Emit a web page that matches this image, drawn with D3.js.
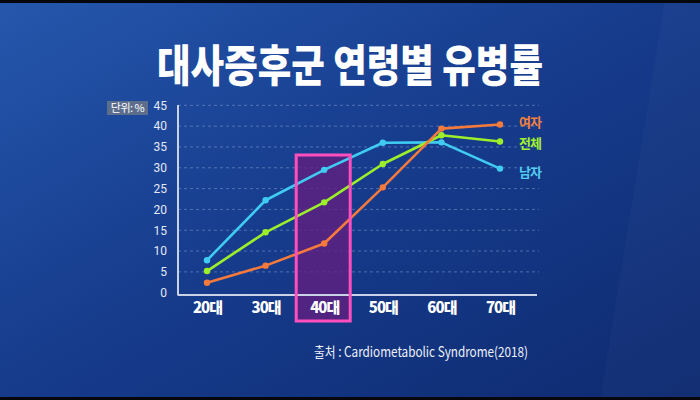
<!DOCTYPE html>
<html>
<head>
<meta charset="utf-8">
<script src="https://cdn.jsdelivr.net/npm/d3@7"></script>
<style>
  html, body { margin: 0; padding: 0; background: #000; }
  svg { display: block; }
</style>
</head>
<body>
<div id="chart"></div>
<script>
const ages = ["20대", "30대", "40대", "50대", "60대", "70대"];
const yTicks = [0, 5, 10, 15, 20, 25, 30, 35, 40, 45];
const male = [7.8, 22.2, 29.5, 36.0, 36.1, 29.8];
const total = [5.2, 14.5, 21.7, 30.9, 37.8, 36.3];
const female = [2.4, 6.5, 11.8, 25.3, 39.4, 40.4];
const seriesNames = ["여자", "전체", "남자"];

const W = 700, H = 400;

const svg = d3.select("#chart").append("svg")
    .attr("width", W)
    .attr("height", H);

// background
const defs = svg.append("defs");
const bg = defs.append("linearGradient").attr("id", "bg")
    .attr("x1", "0").attr("y1", "0").attr("x2", "1").attr("y2", "1");
bg.append("stop").attr("offset", "0%").attr("stop-color", "#2557ac");
bg.append("stop").attr("offset", "45%").attr("stop-color", "#173d8e");
bg.append("stop").attr("offset", "100%").attr("stop-color", "#0e2a70");

svg.append("rect").attr("width", W).attr("height", H).attr("fill", "url(#bg)");
svg.append("path")
    .attr("d", "M665,0 L700,0 L700,400 L600,400 Z")
    .attr("fill", "#ffffff").attr("opacity", 0.025);
svg.append("rect").attr("width", W).attr("height", 3).attr("fill", "#05070d");
svg.append("rect").attr("y", H - 3).attr("width", W).attr("height", 3).attr("fill", "#05070d");

// title
svg.append("text")
    .attr("x", 350).attr("y", 82)
    .attr("text-anchor", "middle")
    .attr("fill", "#ffffff")
    .style("font-family", "'Noto Sans CJK KR', sans-serif")
    .style("font-weight", 900)
    .style("font-size", "44px")
    .attr("textLength", 386)
    .attr("lengthAdjust", "spacingAndGlyphs")
    .text("대사증후군 연령별 유병률");

const x = d3.scalePoint().domain(ages).range([207, 500]);
const y = d3.scaleLinear().domain([0, 45]).range([292.7, 105.3]);

const plotLeft = 178, plotRight = 539;

// grid lines
svg.append("g")
    .selectAll("line")
    .data(yTicks.filter(d => d > 0))
    .enter().append("line")
    .attr("x1", plotLeft).attr("x2", plotRight)
    .attr("y1", d => y(d)).attr("y2", d => y(d))
    .attr("stroke", "#8ea3cf")
    .attr("stroke-opacity", 0.5)
    .attr("stroke-width", 1)
    .attr("stroke-dasharray", "3,3");

// highlight box behind lines
const hlX = x("40대");
svg.append("rect")
    .attr("x", hlX - 28).attr("y", 155)
    .attr("width", 54).attr("height", 166)
    .attr("fill", "#621f80").attr("fill-opacity", 0.8);

// axis lines
svg.append("line")
    .attr("x1", plotLeft).attr("x2", plotLeft)
    .attr("y1", 105).attr("y2", 295.5)
    .attr("stroke", "#c9d2e6").attr("stroke-width", 2);
svg.append("line")
    .attr("x1", plotLeft).attr("x2", 537)
    .attr("y1", 295).attr("y2", 295)
    .attr("stroke", "#c9d2e6").attr("stroke-width", 2);

// y axis labels
const yAxis = d3.axisLeft(y).tickValues(yTicks).tickSize(0).tickPadding(0);
const yG = svg.append("g")
    .attr("transform", "translate(167,0)")
    .call(yAxis);
yG.select(".domain").remove();
yG.selectAll("text")
    .attr("fill", "#e4e8f2")
    .style("font-family", "'Liberation Sans Narrow', 'Roboto', sans-serif")
    .style("font-size", "12px");

// x axis labels
const xAxis = d3.axisBottom(x).tickSize(0).tickPadding(0);
const xG = svg.append("g")
    .attr("transform", "translate(0,302)")
    .call(xAxis);
xG.select(".domain").remove();
xG.selectAll("text")
    .attr("fill", "#ffffff")
    .style("font-family", "'Noto Sans CJK KR', sans-serif")
    .style("font-weight", 900)
    .style("font-size", "15px")
    .style("letter-spacing", "-1px");

// unit label
svg.append("rect")
    .attr("x", 107).attr("y", 101)
    .attr("width", 41).attr("height", 14)
    .attr("fill", "#5d6e8c");
svg.append("text")
    .attr("x", 127.5).attr("y", 112)
    .attr("text-anchor", "middle")
    .attr("fill", "#ffffff")
    .style("font-family", "'Noto Sans CJK KR', sans-serif")
    .style("font-size", "11px")
    .style("letter-spacing", "-0.5px")
    .text("단위: %");

// lines
const series = [
    {name: "남자", values: male, color: "#40cbf2"},
    {name: "전체", values: total, color: "#9cf02a"},
    {name: "여자", values: female, color: "#f57a3c"}
];

const line = d3.line()
    .x((d, i) => x(ages[i]))
    .y(d => y(d));

series.forEach(s => {
    svg.append("path")
        .datum(s.values)
        .attr("fill", "none")
        .attr("stroke", s.color)
        .attr("stroke-width", 2.6)
        .attr("stroke-linejoin", "round")
        .attr("d", line);
    svg.append("g")
        .selectAll("circle")
        .data(s.values)
        .enter().append("circle")
        .attr("cx", (d, i) => x(ages[i]))
        .attr("cy", d => y(d))
        .attr("r", 3.2)
        .attr("fill", s.color);
});

// highlight border
svg.append("rect")
    .attr("x", hlX - 28).attr("y", 155)
    .attr("width", 54).attr("height", 166)
    .attr("fill", "none")
    .attr("stroke", "#ff4fbe")
    .attr("stroke-width", 3);

// series labels
const labelPos = {"여자": 122, "전체": 143, "남자": 172};
const labelColor = {"여자": "#f5803e", "전체": "#a4f030", "남자": "#52ccee"};
svg.append("g")
    .selectAll("text")
    .data(seriesNames)
    .enter().append("text")
    .attr("x", 519)
    .attr("y", d => labelPos[d])
    .attr("dy", "0.35em")
    .attr("fill", d => labelColor[d])
    .style("font-family", "'Noto Sans CJK KR', sans-serif")
    .style("font-weight", 700)
    .style("font-size", "13px")
    .style("letter-spacing", "-1px")
    .text(d => d);

// source
svg.append("text")
    .attr("x", 314).attr("y", 357)
    .attr("fill", "#eef1f8")
    .style("font-family", "'Noto Sans CJK KR', sans-serif")
    .style("font-size", "14px")
    .attr("textLength", 214)
    .attr("lengthAdjust", "spacingAndGlyphs")
    .text("출처 : Cardiometabolic Syndrome(2018)");
</script>
</body>
</html>
